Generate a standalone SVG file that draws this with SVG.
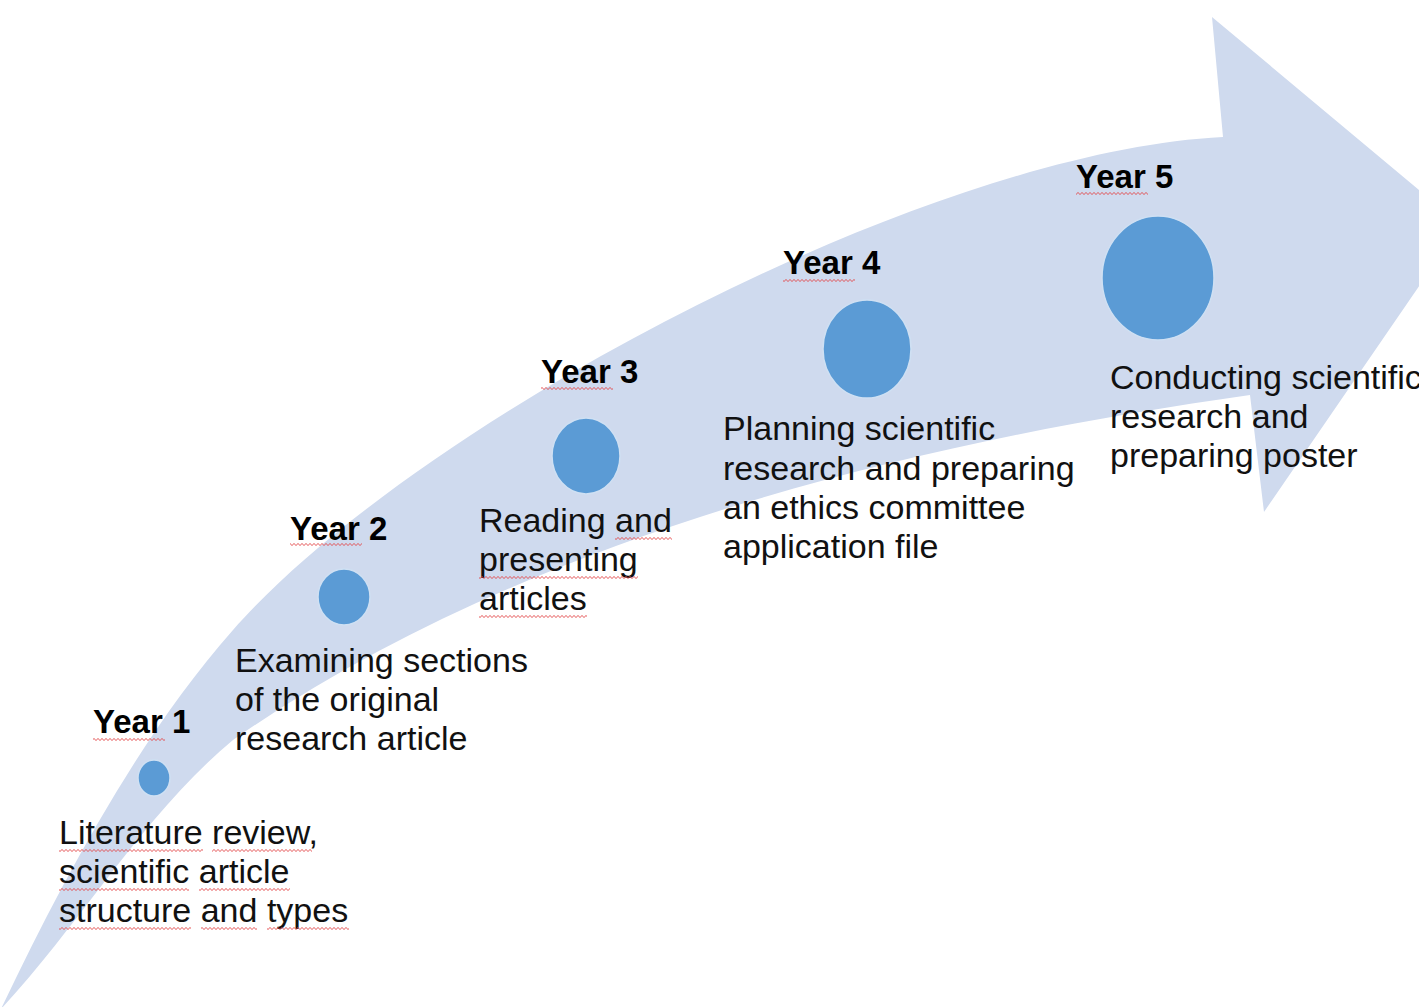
<svg xmlns="http://www.w3.org/2000/svg" width="1419" height="1007" viewBox="0 0 1419 1007">
  <defs>
    <pattern id="sq" x="0" y="0" width="4" height="3" patternUnits="userSpaceOnUse">
      <path d="M-1,1.5 L0,2.6 L2,0.4 L4,2.6 L5,1.5" fill="none" stroke="#e2474a" stroke-width="0.9"/>
    </pattern>
    <style>
      .band { fill: #cfdaee; }
      .dot { fill: #5b9bd5; stroke: #cfe0f3; stroke-width: 1.5; }
      .yr { font-family: "Liberation Sans", Arial, sans-serif; font-weight: bold; font-size: 33px; fill: #000; }
      .desc { font-family: "Liberation Sans", Arial, sans-serif; font-size: 34px; fill: #111; }
      .squig { fill: url(#sq); }
    </style>
  </defs>
  <rect width="1419" height="1007" fill="#ffffff"/>

  <g id="connectors">
    <path id="timeline-arrow" class="band" d="M 1,1009 C 62,881 140,735 233,630 C 413,425 923,152 1223,137 L 1212,17 L 1461,225 L 1264,512 L 1250,395 C 903,444 520,540 233,740 C 144,814 81,923 1,1009 Z"/>
  </g>

  <g id="year1">
    <ellipse class="dot" cx="154" cy="778" rx="16" ry="18"/>
    <text class="yr" x="93" y="733">Year 1</text>
    <rect class="squig" x="93" y="738" width="72" height="3"/>
    <text class="desc" x="59" y="844">Literature review,</text>
    <text class="desc" x="59" y="883">scientific article</text>
    <text class="desc" x="59" y="922">structure and types</text>
    <rect class="squig" x="59" y="849" width="144" height="3"/>
    <rect class="squig" x="212" y="849" width="100" height="3"/>
    <rect class="squig" x="59" y="888" width="130" height="3"/>
    <rect class="squig" x="199" y="888" width="91" height="3"/>
    <rect class="squig" x="59" y="927" width="132" height="3"/>
    <rect class="squig" x="201" y="927" width="56" height="3"/>
    <rect class="squig" x="267" y="927" width="82" height="3"/>
  </g>

  <g id="year2">
    <ellipse class="dot" cx="344" cy="597" rx="26" ry="28"/>
    <text class="yr" x="290" y="540">Year 2</text>
    <rect class="squig" x="290" y="543" width="72" height="3"/>
    <text class="desc" x="235" y="672">Examining sections</text>
    <text class="desc" x="235" y="711">of the original</text>
    <text class="desc" x="235" y="750">research article</text>
  </g>

  <g id="year3">
    <ellipse class="dot" cx="586" cy="456" rx="34" ry="38"/>
    <text class="yr" x="541" y="383">Year 3</text>
    <rect class="squig" x="541" y="387" width="72" height="3"/>
    <text class="desc" x="479" y="532">Reading and</text>
    <text class="desc" x="479" y="571">presenting</text>
    <text class="desc" x="479" y="610">articles</text>
    <rect class="squig" x="615" y="537" width="57" height="3"/>
    <rect class="squig" x="479" y="576" width="159" height="3"/>
    <rect class="squig" x="479" y="615" width="108" height="3"/>
  </g>

  <g id="year4">
    <ellipse class="dot" cx="867" cy="349" rx="44" ry="49"/>
    <text class="yr" x="783" y="274">Year 4</text>
    <rect class="squig" x="783" y="279" width="72" height="3"/>
    <text class="desc" x="723" y="440">Planning scientific</text>
    <text class="desc" x="723" y="480">research and preparing</text>
    <text class="desc" x="723" y="519">an ethics committee</text>
    <text class="desc" x="723" y="558">application file</text>
  </g>

  <g id="year5">
    <ellipse class="dot" cx="1158" cy="278" rx="56" ry="62"/>
    <text class="yr" x="1076" y="188">Year 5</text>
    <rect class="squig" x="1076" y="192" width="72" height="3"/>
    <text class="desc" x="1110" y="389">Conducting scientific</text>
    <text class="desc" x="1110" y="428">research and</text>
    <text class="desc" x="1110" y="467">preparing poster</text>
  </g>
</svg>
